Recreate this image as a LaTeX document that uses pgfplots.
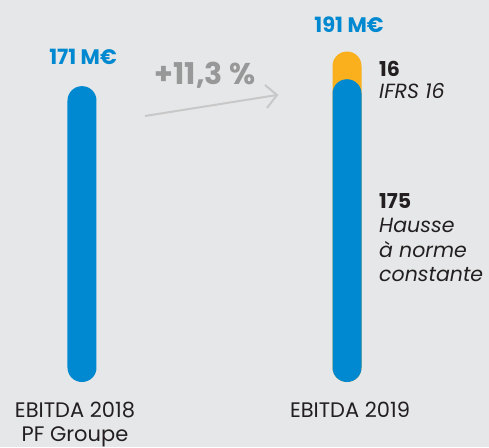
\documentclass[border=0pt]{standalone}
\usepackage{pgfplots}
\pgfplotsset{compat=1.18}
\usepackage{fontspec}
\setmainfont{Poppins}
\definecolor{bg}{HTML}{E6E7E8}
\definecolor{bblue}{HTML}{0089D0}
\definecolor{borange}{HTML}{F9B01C}
\definecolor{pgray}{HTML}{989898}
\definecolor{agray}{HTML}{C8C8C8}
\definecolor{tblack}{HTML}{231F20}
\begin{document}
\begin{tikzpicture}
\useasboundingbox (0,0) rectangle (489pt,447pt);
\fill[bg] (0,0) rectangle (489pt,447pt);
\begin{axis}[
  at={(0,0)}, anchor=south west,
  scale only axis, width=489pt, height=447pt,
  hide axis, clip=false,
  xmin=-0.3094, xmax=1.5358,
  ymin=-37.57, ymax=220.8,
  ybar, bar width=29pt, bar shift=0pt,
]
\addplot[fill=borange, draw=none, rounded corners=14.4pt] coordinates {(1,191)};
\addplot[fill=bblue, draw=none, rounded corners=14.4pt] coordinates {(0,171) (1,175)};
\end{axis}
% value labels
\node[text=bblue, font=\fontsize{21}{22}\bfseries\selectfont, anchor=base, inner sep=0pt] at (83pt,447pt-65pt) {171 M€};
\node[text=bblue, font=\fontsize{21}{22}\bfseries\selectfont, anchor=base, inner sep=0pt] at (349pt,447pt-33pt) {191 M€};
\node[text=pgray, font=\fontsize{30}{32}\bfseries\selectfont, anchor=base, inner sep=0pt] at (205pt,447pt-85pt) {+11,3 \%};
% arrow
\draw[agray, line width=2pt] (145pt,447pt-116pt) -- (277pt,447pt-95pt);
\draw[agray, line width=2pt] (265pt,447pt-85pt) -- (277pt,447pt-95pt) -- (267pt,447pt-108pt);
% side labels
\node[text=tblack, anchor=base west, align=left, font=\fontsize{20.5}{22}\selectfont, inner sep=0pt] at (379pt,447pt-99pt) {\textbf{16}\\\textit{IFRS 16}};
\node[text=tblack, anchor=base west, align=left, font=\fontsize{20.5}{24.5}\selectfont, inner sep=0pt] at (379pt,447pt-282pt) {\textbf{175}\\\textit{Hausse}\\\textit{à norme}\\\textit{constante}};
% category labels
\node[text=tblack, anchor=base, align=center, font=\fontsize{21}{24}\selectfont, inner sep=0pt] at (75pt,447pt-441pt) {EBITDA 2018\\PF Groupe};
\node[text=tblack, anchor=base, font=\fontsize{21}{24}\selectfont, inner sep=0pt] at (350pt,447pt-417pt) {EBITDA 2019};
\end{tikzpicture}
\end{document}
